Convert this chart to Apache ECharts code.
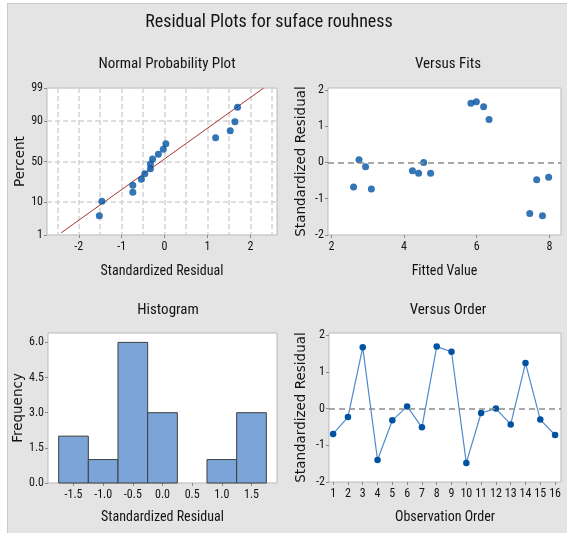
<!DOCTYPE html>
<html><head><meta charset="utf-8">
<script src="https://cdn.jsdelivr.net/npm/echarts@6/dist/echarts.min.js"></script>
<style>
html,body{margin:0;padding:0;background:#fff;}
#bg{position:absolute;left:7px;top:3px;width:560px;height:530px;background:#e4e4e4;border-left:1px solid #c9c9c9;border-top:1px solid #c9c9c9;box-sizing:border-box;}
#chart{position:absolute;left:0;top:0;width:567px;height:533px;}
</style></head><body><div id="bg"></div><div id="chart"></div>
<script>
const mainTitle = 'Residual Plots for suface rouhness';
const panelTitles = ['Normal Probability Plot', 'Versus Fits', 'Histogram', 'Versus Order'];
const axisNames = {
  npX: 'Standardized Residual', npY: 'Percent',
  fitX: 'Fitted Value', fitY: 'Standardized Residual',
  histX: 'Standardized Residual', histY: 'Frequency',
  ordX: 'Observation Order', ordY: 'Standardized Residual'
};

// Normal probability plot
const npResidual = [-1.52, -1.46, -0.74, -0.74, -0.54, -0.46, -0.33, -0.33, -0.28, -0.145, -0.03, 0.03, 1.19, 1.53, 1.64, 1.70];
const npPercent = [4.3, 10.4, 16.5, 22.6, 28.7, 34.8, 40.9, 47.0, 53.0, 59.1, 65.2, 71.3, 77.4, 83.5, 89.6, 95.7];
const npFitLine = [[-2.41, 1.2], [2.31, 99]];
const npPercentTicks = [1, 10, 50, 90, 99];
const npResidualTicks = [-2, -1, 0, 1, 2];
const npResidualGrid = [-2.5, -2, -1.5, -1, -0.5, 0, 0.5, 1, 1.5, 2, 2.5];

// Versus fits
const fitValues = [2.61, 2.76, 2.94, 3.10, 4.23, 4.40, 4.54, 4.73, 5.84, 5.99, 6.19, 6.34, 7.46, 7.65, 7.81, 7.98];
const fitResiduals = [-0.68, 0.07, -0.12, -0.73, -0.23, -0.30, 0.0, -0.30, 1.63, 1.67, 1.53, 1.18, -1.41, -0.48, -1.47, -0.41];
const fitTicks = [2, 4, 6, 8];
const residTicks = [-2, -1, 0, 1, 2];

// Histogram
const binCenters = [-1.5, -1.0, -0.5, 0.0, 0.5, 1.0, 1.5];
const binCounts = [2, 1, 6, 3, 0, 1, 3];
const binWidth = 0.5;
const freqTicks = [0, 1.5, 3, 4.5, 6];

// Versus order
const observationOrder = [1, 2, 3, 4, 5, 6, 7, 8, 9, 10, 11, 12, 13, 14, 15, 16];
const orderResiduals = [-0.69, -0.23, 1.67, -1.40, -0.32, 0.06, -0.51, 1.69, 1.55, -1.48, -0.12, 0.0, -0.43, 1.24, -0.30, -0.72];

// inverse normal CDF: the probability-scale transform
function probit(p) {
  const a=[-3.969683028665376e+01,2.209460984245205e+02,-2.759285104469687e+02,1.383577518672690e+02,-3.066479806614716e+01,2.506628277459239e+00];
  const b=[-5.447609879822406e+01,1.615858368580409e+02,-1.556989798598866e+02,6.680131188771972e+01,-1.328068155288572e+01];
  const c=[-7.784894002430293e-03,-3.223964580411365e-01,-2.400758277161838e+00,-2.549732539343734e+00,4.374664141464968e+00,2.938163982698783e+00];
  const d=[7.784695709041462e-03,3.224671290700398e-01,2.445134137142996e+00,3.754408661907416e+00];
  const pl=0.02425, ph=1-pl; let q, r;
  if (p < pl) { q=Math.sqrt(-2*Math.log(p)); return (((((c[0]*q+c[1])*q+c[2])*q+c[3])*q+c[4])*q+c[5])/((((d[0]*q+d[1])*q+d[2])*q+d[3])*q+1); }
  if (p <= ph) { q=p-0.5; r=q*q; return (((((a[0]*r+a[1])*r+a[2])*r+a[3])*r+a[4])*r+a[5])*q/(((((b[0]*r+b[1])*r+b[2])*r+b[3])*r+b[4])*r+1); }
  q=Math.sqrt(-2*Math.log(1-p)); return -(((((c[0]*q+c[1])*q+c[2])*q+c[3])*q+c[4])*q+c[5])/((((d[0]*q+d[1])*q+d[2])*q+d[3])*q+1);
}
const pz = v => probit(v / 100);

const NARROW = "'Liberation Sans Narrow','Arial Narrow','Roboto Condensed',sans-serif";
const VFONT = "'DejaVu Sans',sans-serif";
const TXT = '#141414';
const PT = '#0052a3';

function xAx(grid, min, max, ticks, name, gap, fmt) {
  return {
    type: 'value', gridIndex: grid, min, max, position: 'bottom',
    name, nameLocation: 'middle', nameGap: gap,
    nameTextStyle: { fontFamily: NARROW, fontSize: 14, color: TXT },
    axisLine: { show: false, onZero: false },
    axisTick: { show: true, customValues: ticks, length: 3, lineStyle: { color: '#8a8a8a' } },
    axisLabel: { customValues: ticks, fontFamily: NARROW, fontSize: 12, color: TXT, margin: 6, formatter: fmt || (v => String(v)) },
    splitLine: { show: false }
  };
}
function yAx(grid, min, max, ticks, name, gap, fmt, split) {
  return {
    type: 'value', gridIndex: grid, min, max, position: 'left',
    name, nameLocation: 'middle', nameGap: gap, nameRotate: 90,
    nameTextStyle: { fontFamily: VFONT, fontSize: 13.5, color: TXT },
    axisLine: { show: false, onZero: false },
    axisTick: { show: true, customValues: ticks, length: 3, lineStyle: { color: '#8a8a8a' } },
    axisLabel: { customValues: ticks, fontFamily: NARROW, fontSize: 12, color: TXT, margin: 4, formatter: fmt || (v => String(v)) },
    splitLine: split ? { show: true, lineStyle: { color: '#d4d4d4', type: [5, 3], width: 1.5 } } : { show: false }
  };
}

const zeroLine = {
  silent: true, symbol: ['none', 'none'], label: { show: false },
  lineStyle: { color: '#8c8c8c', type: [6, 4], width: 1.6 },
  data: [{ yAxis: 0 }]
};

const gridStyle = { show: true, backgroundColor: '#ffffff', borderColor: '#b9b9b9', borderWidth: 1 };

const npZTicks = npPercentTicks.map(pz);
const subTitleStyle = { fontFamily: NARROW, fontSize: 15, fontWeight: 'normal', color: TXT };

const option = {
  animation: false,
  backgroundColor: 'transparent',
  title: [
    { text: mainTitle, left: 264, top: 8, textAlign: 'center', textStyle: { fontFamily: NARROW, fontSize: 18, fontWeight: 'normal', color: TXT } },
    { text: panelTitles[0], left: 162, top: 52, textAlign: 'center', textStyle: subTitleStyle },
    { text: panelTitles[1], left: 443, top: 52, textAlign: 'center', textStyle: subTitleStyle },
    { text: panelTitles[2], left: 163, top: 298, textAlign: 'center', textStyle: subTitleStyle },
    { text: panelTitles[3], left: 443, top: 298, textAlign: 'center', textStyle: subTitleStyle }
  ],
  grid: [
    Object.assign({ left: 47, top: 88, width: 230, height: 147 }, gridStyle),
    Object.assign({ left: 328, top: 88, width: 233, height: 147 }, gridStyle),
    Object.assign({ left: 48, top: 333, width: 229, height: 150 }, gridStyle),
    Object.assign({ left: 329, top: 333, width: 232, height: 149 }, gridStyle)
  ],
  xAxis: [
    xAx(0, -2.74, 2.62, npResidualTicks, axisNames.npX, 29),
    {
      type: 'value', gridIndex: 0, min: -2.74, max: 2.62, position: 'bottom',
      axisLine: { show: false, onZero: false }, axisLabel: { show: false },
      axisTick: { show: false, customValues: npResidualGrid },
      splitLine: { show: true, lineStyle: { color: '#d4d4d4', type: [5, 3], width: 1.5 } }
    },
    xAx(1, 1.906, 8.32, fitTicks, axisNames.fitX, 29),
    xAx(2, -1.93, 1.93, binCenters, axisNames.histX, 27, v => v.toFixed(1)),
    xAx(3, 0.72, 16.4, observationOrder, axisNames.ordX, 28)
  ],
  yAxis: [
    yAx(0, pz(1), pz(99), npZTicks, axisNames.npY, 20, v => {
      for (let i = 0; i < npZTicks.length; i++) if (Math.abs(npZTicks[i] - v) < 1e-6) return String(npPercentTicks[i]);
      return '';
    }, true),
    yAx(1, -2, 2.05, residTicks, axisNames.fitY, 20),
    yAx(2, 0, 6.4, freqTicks, axisNames.histY, 23, v => v.toFixed(1)),
    yAx(3, -2, 2.06, residTicks, axisNames.ordY, 21)
  ],
  series: [
    {
      type: 'line', xAxisIndex: 0, yAxisIndex: 0, symbol: 'none', z: 3,
      lineStyle: { color: '#a93434', width: 1 },
      data: npFitLine.map(p => [p[0], pz(p[1])])
    },
    {
      type: 'scatter', xAxisIndex: 0, yAxisIndex: 0, symbolSize: 7, z: 4,
      itemStyle: { color: PT },
      data: npResidual.map((r, i) => [r, pz(npPercent[i])])
    },
    {
      type: 'scatter', xAxisIndex: 2, yAxisIndex: 1, symbolSize: 7,
      itemStyle: { color: PT },
      data: fitValues.map((f, i) => [f, fitResiduals[i]]),
      markLine: zeroLine
    },
    {
      type: 'custom', xAxisIndex: 3, yAxisIndex: 2,
      encode: { x: 0, y: 1 },
      data: binCenters.map((c, i) => [c, binCounts[i]]),
      renderItem: (params, api) => {
        const c = api.value(0), n = api.value(1);
        const p1 = api.coord([c - binWidth / 2, n]);
        const p2 = api.coord([c + binWidth / 2, 0]);
        return {
          type: 'rect',
          shape: { x: p1[0], y: p1[1], width: p2[0] - p1[0], height: p2[1] - p1[1] },
          style: { fill: '#7ba5d8', stroke: n > 0 ? '#3e3e3e' : null, lineWidth: 1 }
        };
      }
    },
    {
      type: 'line', xAxisIndex: 4, yAxisIndex: 3, symbol: 'circle', symbolSize: 6.5,
      lineStyle: { color: '#4f88cc', width: 1.2 },
      itemStyle: { color: PT },
      data: observationOrder.map((o, i) => [o, orderResiduals[i]]),
      markLine: zeroLine
    }
  ]
};

const chart = echarts.init(document.getElementById('chart'), null, { renderer: 'canvas' });
chart.setOption(option);
</script>
</body></html>
